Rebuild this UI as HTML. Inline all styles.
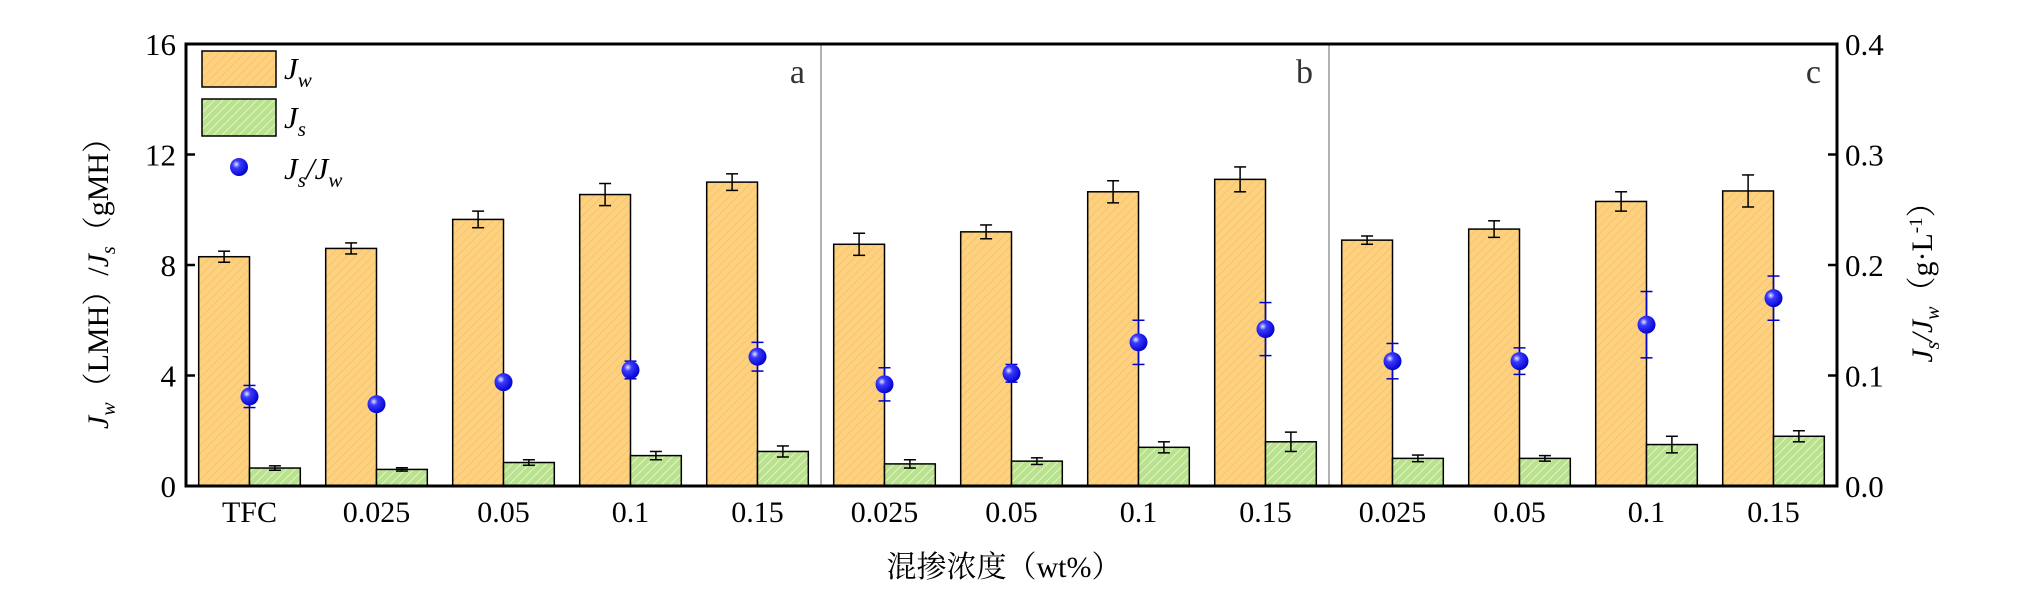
<!DOCTYPE html>
<html><head><meta charset="utf-8"><style>
html,body{margin:0;padding:0;background:#fff;}
svg{display:block;}
text{font-family:"Liberation Serif","Noto Serif CJK SC",serif;}
</style></head><body>
<svg id="chart" width="2032" height="598" viewBox="0 0 2032 598" xmlns="http://www.w3.org/2000/svg">
<defs>
<pattern id="hatchO" patternUnits="userSpaceOnUse" width="6" height="6" patternTransform="rotate(45)">
<rect width="6" height="6" fill="#FDD17F"/><line x1="0" y1="0" x2="0" y2="6" stroke="#F6C56A" stroke-width="2"/></pattern>
<pattern id="hatchG" patternUnits="userSpaceOnUse" width="6" height="6" patternTransform="rotate(45)">
<rect width="6" height="6" fill="#B9E28E"/><line x1="0" y1="0" x2="0" y2="6" stroke="#E4F3C8" stroke-width="2"/></pattern>
<radialGradient id="ball" cx="0.35" cy="0.35" r="0.7">
<stop offset="0" stop-color="#E8E8FF"/><stop offset="0.3" stop-color="#3a3aff"/><stop offset="1" stop-color="#0000CC"/></radialGradient>
</defs>
<g id="plot"></g>
<g>
<rect x="202" y="51" width="74" height="36" fill="url(#hatchO)" stroke="#000" stroke-width="1.5"/>
<text x="284" y="79" font-size="31" font-style="italic" font-family="Liberation Serif,serif">J<tspan font-size="21" dy="8">w</tspan></text>
<rect x="202" y="99" width="74" height="37" fill="url(#hatchG)" stroke="#000" stroke-width="1.5"/>
<text x="284" y="128" font-size="31" font-style="italic" font-family="Liberation Serif,serif">J<tspan font-size="21" dy="8">s</tspan></text>
<circle cx="239" cy="167" r="9" fill="url(#ball)"/>
<text x="284" y="179" font-size="31" font-style="italic" font-family="Liberation Serif,serif">J<tspan font-size="21" dy="8">s</tspan><tspan dy="-8">/J</tspan><tspan font-size="21" dy="8">w</tspan></text>
</g>
<text transform="translate(108,276) rotate(-90)" text-anchor="middle" font-size="30" font-family="Liberation Serif,Noto Serif CJK SC,serif"><tspan font-style="italic">J</tspan><tspan font-style="italic" font-size="20" dy="7">w</tspan><tspan dy="-7">（LMH）/</tspan><tspan font-style="italic">J</tspan><tspan font-style="italic" font-size="20" dy="7">s</tspan><tspan dy="-7">（gMH）</tspan></text>
<text transform="translate(1932,275) rotate(-90)" text-anchor="middle" font-size="30" font-family="Liberation Serif,Noto Serif CJK SC,serif"><tspan font-style="italic">J</tspan><tspan font-style="italic" font-size="20" dy="7">s</tspan><tspan font-style="italic" dy="-7">/J</tspan><tspan font-style="italic" font-size="20" dy="7">w</tspan><tspan dy="-7">（g·L</tspan><tspan font-size="19" dy="-10">-1</tspan><tspan dy="10">）</tspan></text>
<text x="1004" y="577" text-anchor="middle" font-size="30" font-family="Liberation Serif,Noto Serif CJK SC,serif">混掺浓度（wt%）</text>
</svg>
<script>
const categories=["TFC","0.025","0.05","0.1","0.15","0.025","0.05","0.1","0.15","0.025","0.05","0.1","0.15"];
const jw=[8.3,8.6,9.65,10.55,11.0,8.75,9.2,10.65,11.1,8.9,9.3,10.3,10.68];
const jwErr=[0.2,0.2,0.3,0.4,0.3,0.4,0.25,0.4,0.45,0.15,0.3,0.35,0.58];
const js=[0.65,0.6,0.85,1.1,1.25,0.8,0.9,1.4,1.6,1.0,1.0,1.5,1.8];
const jsErr=[0.08,0.06,0.1,0.15,0.2,0.15,0.12,0.2,0.35,0.12,0.1,0.3,0.2];
const ratio=[0.081,0.074,0.094,0.105,0.117,0.092,0.102,0.13,0.142,0.113,0.113,0.146,0.17];
const ratioErr=[0.01,0.004,0.005,0.008,0.013,0.015,0.008,0.02,0.024,0.016,0.012,0.03,0.02];
const leftTicks=[0,4,8,12,16];
const rightTicks=["0.0","0.1","0.2","0.3","0.4"];
const panelLabels=["a","b","c"];
const panelEnds=[5,9,13];

const NS="http://www.w3.org/2000/svg";
const FONT="Liberation Serif, serif";
const X0=186,X1=1837,Y0=486,Y1=44;
const slot=(X1-X0)/categories.length;
const yL=v=>Y0-(v/16)*(Y0-Y1);
const yR=v=>Y0-(v/0.4)*(Y0-Y1);
const xs=i=>X0+i*slot;
const g=document.getElementById('plot');
function mk(tag,attrs,parent){const e=document.createElementNS(NS,tag);for(const k in attrs)e.setAttribute(k,attrs[k]);(parent||g).appendChild(e);return e;}
function errBar(x,lo,hi,col,name){
  const eg=mk('g',{});
  
  
  mk('line',{x1:x,x2:x,y1:lo,y2:hi,stroke:col,'stroke-width':1.5},eg);
  mk('line',{x1:x-6,x2:x+6,y1:lo,y2:lo,stroke:col,'stroke-width':1.5},eg);
  mk('line',{x1:x-6,x2:x+6,y1:hi,y2:hi,stroke:col,'stroke-width':1.5},eg);
}
for(let p=0;p<panelEnds.length-1;p++){
  const l=mk('line',{x1:xs(panelEnds[p]),x2:xs(panelEnds[p]),y1:Y1,y2:Y0,stroke:'#999','stroke-width':1.5});
  
  
}
panelLabels.forEach((t,p)=>{
  const e=mk('text',{x:xs(panelEnds[p])-16,y:83,'font-size':34,'text-anchor':'end',fill:'#333','font-family':FONT});
  e.textContent=t;
  
  
});
categories.forEach((c,i)=>{
  const bw=slot*0.4;
  const xa=xs(i)+slot*0.1, xb=xs(i)+slot*0.5;
  const b1=mk('rect',{x:xa,y:yL(jw[i]),width:bw,height:Y0-yL(jw[i]),fill:'url(#hatchO)',stroke:'#000','stroke-width':1.5});
  
  
  errBar(xa+bw/2,yL(jw[i]-jwErr[i]),yL(jw[i]+jwErr[i]),'#000','jw-error-bar');
  const b2=mk('rect',{x:xb,y:yL(js[i]),width:bw,height:Y0-yL(js[i]),fill:'url(#hatchG)',stroke:'#000','stroke-width':1.5});
  
  
  errBar(xb+bw/2,yL(js[i]-jsErr[i]),yL(js[i]+jsErr[i]),'#000','js-error-bar');
  errBar(xb,yR(ratio[i]-ratioErr[i]),yR(ratio[i]+ratioErr[i]),'#0000CC','ratio-error-bar');
  const pt=mk('circle',{cx:xb,cy:yR(ratio[i]),r:9,fill:'url(#ball)'});
  
  
  const tl=mk('text',{x:xb,y:522,'font-size':30,'text-anchor':'middle','font-family':FONT});
  tl.textContent=c;
  
  
});
const fr=mk('rect',{x:X0,y:Y1,width:X1-X0,height:Y0-Y1,fill:'none',stroke:'#000','stroke-width':3});


leftTicks.forEach(v=>{
  mk('line',{x1:X0,x2:X0+9,y1:yL(v),y2:yL(v),stroke:'#000','stroke-width':2.5});
  const t=mk('text',{x:X0-10,y:yL(v)+11,'font-size':31,'text-anchor':'end','font-family':FONT});
  t.textContent=v;
  
  
});
rightTicks.forEach(v=>{
  mk('line',{x1:X1-9,x2:X1,y1:yR(+v),y2:yR(+v),stroke:'#000','stroke-width':2.5});
  const t=mk('text',{x:X1+8,y:yR(+v)+11,'font-size':31,'text-anchor':'start','font-family':FONT});
  t.textContent=v;
  
  
});
</script>
</body></html>
